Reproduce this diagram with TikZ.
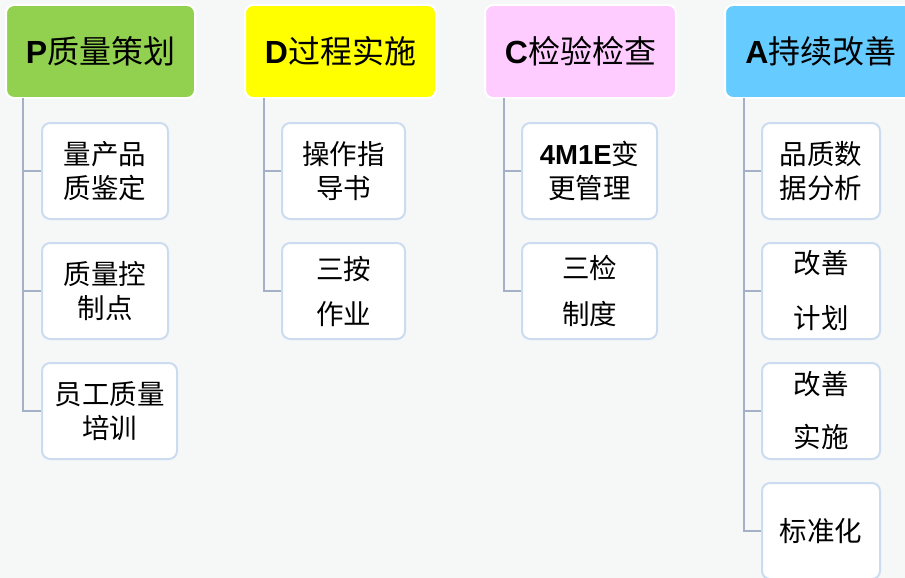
\documentclass[tikz,border=0pt]{standalone}
\usepackage{fontspec}
\setmainfont{Noto Sans CJK SC}
\newfontfamily\latb{Liberation Sans}
\definecolor{bg}{HTML}{F6F8F8}
\definecolor{cP}{HTML}{92D050}
\definecolor{cD}{HTML}{FFFF00}
\definecolor{cC}{HTML}{FFCCFF}
\definecolor{cA}{HTML}{66CCFF}
\definecolor{bx}{HTML}{CCDCF0}
\definecolor{ln}{HTML}{A4B0C6}
\newcommand{\LB}[1]{{\latb\bfseries #1}}
\tikzset{
  head/.style={draw=white, line width=2pt, rounded corners=8pt, font=\fontsize{32}{36}\selectfont, inner sep=0pt},
  kid/.style={draw=bx, fill=white, line width=2pt, rounded corners=8pt, inner sep=0pt, align=center, font=\fontsize{27.5}{34}\selectfont},
  conn/.style={draw=ln, line width=2.5pt}
}
\begin{document}
\begin{tikzpicture}[x=1pt,y=-1pt]
\useasboundingbox (0,0) rectangle (905,578);
\fill[bg] (0,0) rectangle (905,578);
\clip (0,0) rectangle (905,578);
% headers
\node[head, fill=cP, minimum width=189pt, minimum height=93pt] (hP) at (100.5,51.5) {\LB{P}质量策划};
\node[head, fill=cD, minimum width=191pt, minimum height=93pt] (hD) at (340.5,51.5) {\LB{D}过程实施};
\node[head, fill=cC, minimum width=191pt, minimum height=93pt] (hC) at (580.5,51.5) {\LB{C}检验检查};
\node[head, fill=cA, minimum width=192pt, minimum height=93pt, text width=192pt, align=center] (hA) at (821,51.5) {\LB{A}持续改善};
% P children
\node[kid, minimum width=126pt, minimum height=96pt] (p1) at (105,171) {量产品\\质鉴定};
\node[kid, minimum width=126pt, minimum height=96pt] (p2) at (105,291) {质量控\\制点};
\node[kid, minimum width=135pt, minimum height=96pt] (p3) at (109.5,411) {员工质量\\培训};
% D children
\node[kid, minimum width=123pt, minimum height=96pt] (d1) at (343.5,171) {操作指\\导书};
\node[kid, minimum width=123pt, minimum height=96pt] (d2) at (343.5,291) {三按\\[11pt]作业};
% C children
\node[kid, minimum width=135pt, minimum height=96pt] (c1) at (589.5,171) {\LB{4M1E}变\\更管理};
\node[kid, minimum width=135pt, minimum height=96pt] (c2) at (589.5,291) {三检\\[12pt]制度};
% A children
\node[kid, minimum width=118pt, minimum height=96pt] (a1) at (821,171) {品质数\\据分析};
\node[kid, minimum width=118pt, minimum height=96pt] (a2) at (821,291) {改善\\[21pt]计划};
\node[kid, minimum width=118pt, minimum height=96pt] (a3) at (821,411) {改善\\[19pt]实施};
\node[kid, minimum width=118pt, minimum height=96pt] (a4) at (821,531) {标准化};
% connectors
\coordinate (pl) at (23,98);
\coordinate (dl) at (264,98);
\coordinate (cl) at (504,98);
\coordinate (al) at (744,98);
\draw[conn] (pl) |- (p3.west);
\draw[conn] (pl |- p1.west) -- (p1.west);
\draw[conn] (pl |- p2.west) -- (p2.west);
\draw[conn] (dl) |- (d2.west);
\draw[conn] (dl |- d1.west) -- (d1.west);
\draw[conn] (cl) |- (c2.west);
\draw[conn] (cl |- c1.west) -- (c1.west);
\draw[conn] (al) |- (a4.west);
\draw[conn] (al |- a1.west) -- (a1.west);
\draw[conn] (al |- a2.west) -- (a2.west);
\draw[conn] (al |- a3.west) -- (a3.west);
\end{tikzpicture}
\end{document}
